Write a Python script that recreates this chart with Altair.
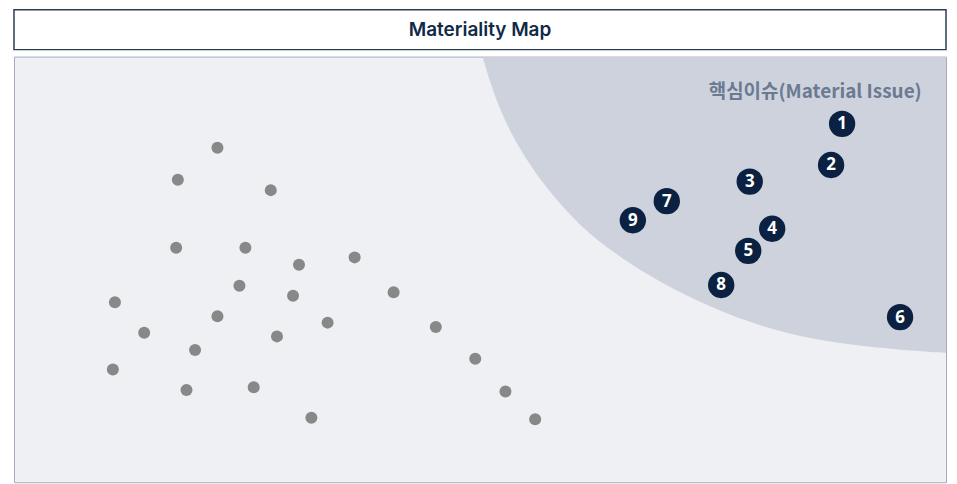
import altair as alt
import pandas as pd

title_text = "Materiality Map"
zone_label = "핵심이슈(Material Issue)"

# Boundary of the shaded "material issue" zone (0-100 scale)
zone_x = [50.27, 51.23, 52.63, 54.56, 57.02, 60.24, 63.34, 68.17, 73.53, 78.89, 84.24, 89.60, 94.96, 100.0]
zone_y = [100.0, 92.92, 84.91, 77.12, 69.34, 61.32, 55.42, 48.35, 42.22, 37.50, 34.20, 32.31, 31.13, 30.42]

# Other issues (grey dots)
other_x = [21.83, 17.58, 27.55, 17.40, 24.83, 30.58, 36.55, 24.19, 10.83, 29.94, 40.73, 21.83,
           33.65, 13.97, 28.22, 45.26, 19.43, 10.61, 49.49, 18.51, 25.72, 52.73, 31.91, 55.92]
other_y = [78.61, 71.06, 68.63, 55.12, 55.12, 51.11, 52.83, 46.16, 42.29, 43.80, 44.65, 38.99,
           37.50, 35.14, 34.27, 36.49, 31.06, 26.49, 29.01, 21.70, 22.33, 21.30, 15.17, 14.79]

# Material issues (numbered)
mat_id = ["1", "2", "3", "4", "5", "6", "7", "8", "9"]
mat_x = [88.85, 87.67, 78.94, 81.35, 78.78, 95.07, 70.04, 75.88, 66.40]
mat_y = [84.20, 74.53, 70.64, 59.55, 54.36, 38.80, 66.04, 46.34, 61.56]

label_x = [97.4]
label_y = [91.7]

zone_df = pd.DataFrame({"x": zone_x, "y": zone_y, "top": [100.0] * len(zone_x)})
other_df = pd.DataFrame({"x": other_x, "y": other_y})
mat_df = pd.DataFrame({"id": mat_id, "x": mat_x, "y": mat_y})
label_df = pd.DataFrame({"t": [zone_label], "x": label_x, "y": label_y})
title_df = pd.DataFrame({"t": [title_text]})

W = 935
xs = alt.Scale(domain=[0, 100], nice=False, zero=False)
ys = alt.Scale(domain=[0, 100], nice=False, zero=False)

zone = alt.Chart(zone_df).mark_area(color="#cdd2dd", interpolate="basis", clip=True).encode(
    x=alt.X("x:Q", scale=xs, axis=None),
    y=alt.Y("y:Q", scale=ys, axis=None),
    y2="top:Q",
)

others = alt.Chart(other_df).mark_circle(color="#888888", opacity=1, size=145).encode(
    x=alt.X("x:Q", scale=xs, axis=None),
    y=alt.Y("y:Q", scale=ys, axis=None),
)

mats = alt.Chart(mat_df).mark_circle(color="#0b2141", opacity=1, size=700).encode(
    x=alt.X("x:Q", scale=xs, axis=None),
    y=alt.Y("y:Q", scale=ys, axis=None),
)

mat_text = alt.Chart(mat_df).mark_text(
    color="white", font="Noto Sans", fontWeight="bold", fontSize=17, baseline="middle", align="center", dy=0.5
).encode(
    x=alt.X("x:Q", scale=xs, axis=None),
    y=alt.Y("y:Q", scale=ys, axis=None),
    text="id:N",
)

label = alt.Chart(label_df).mark_text(
    color="#6b7a92", font="Noto Sans CJK KR", fontWeight="bold", fontSize=19, align="right", baseline="middle"
).encode(
    x=alt.X("x:Q", scale=xs, axis=None),
    y=alt.Y("y:Q", scale=ys, axis=None),
    text="t:N",
)

plot = alt.layer(zone, others, mats, mat_text, label).properties(
    width=W, height=427,
    view=alt.ViewBackground(fill="#eff0f4", stroke="#a3abbd", strokeWidth=1),
)

title_box = alt.Chart(title_df).mark_text(
    color="#0f2a47", font="Inter", fontWeight=600, fontSize=19, align="center", baseline="middle"
).encode(
    x=alt.value(W / 2),
    y=alt.value(20),
    text="t:N",
).properties(
    width=W, height=40,
    view=alt.ViewBackground(fill="white", stroke="#2b3d52", strokeWidth=1.5),
)

chart = alt.vconcat(title_box, plot, spacing=5).properties(
    padding={"left": 5, "top": 0, "right": 2, "bottom": 0},
    background="white",
)

chart.save("out.html", embed_options={"renderer": "svg", "actions": False})
